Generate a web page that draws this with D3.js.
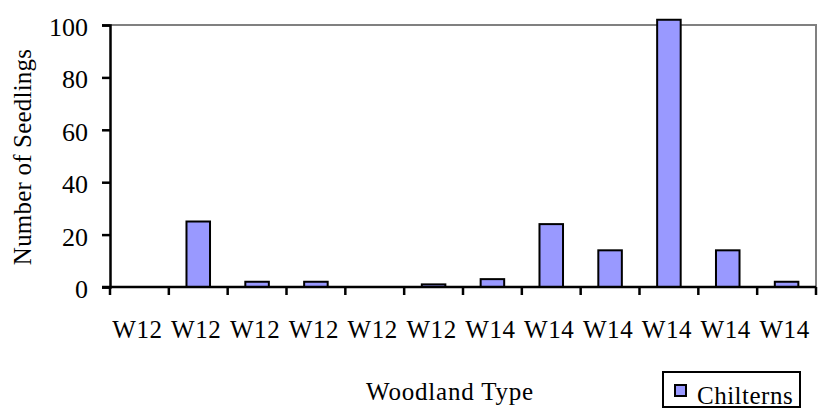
<!DOCTYPE html>
<html>
<head>
<meta charset="utf-8">
<script src="https://cdn.jsdelivr.net/npm/d3@7"></script>
<style>
  html, body { margin: 0; padding: 0; background: #fff; }
  svg { display: block; font-family: "Liberation Serif", "Times New Roman", serif; }
</style>
</head>
<body>
<svg id="chart" width="818" height="410"></svg>
<script>
// Seedling counts per woodland plot
const categories = ["W12", "W12", "W12", "W12", "W12", "W12", "W14", "W14", "W14", "W14", "W14", "W14"];
const chilterns = [0, 25, 2, 2, 0, 1, 3, 24, 14, 102, 14, 2];
const yTicks = [0, 20, 40, 60, 80, 100];
const seriesName = "Chilterns";

const svg = d3.select("#chart");
const margin = { left: 110, right: 2, top: 25, bottom: 123 };
const W = 818, H = 410;
const plotW = W - margin.left - margin.right;
const plotH = H - margin.top - margin.bottom;

const idx = categories.map((_, i) => i);
const x = d3.scaleBand().domain(idx).range([margin.left, margin.left + plotW]).paddingInner(0.6).paddingOuter(0.3);
const xCat = d3.scaleBand().domain(idx).range([margin.left, margin.left + plotW]);
const y = d3.scaleLinear().domain([0, 100]).range([margin.top + plotH, margin.top]);

// plot frame: grey top and right edges
svg.append("path")
  .attr("d", `M${margin.left},${margin.top}H${margin.left + plotW}V${margin.top + plotH}`)
  .attr("fill", "none").attr("stroke", "#808080").attr("stroke-width", 2);

// bars
svg.append("g").selectAll("rect").data(chilterns).join("rect")
  .attr("x", (d, i) => x(i))
  .attr("width", x.bandwidth())
  .attr("y", d => y(d))
  .attr("height", d => y(0) - y(d))
  .attr("fill", "#9999ff")
  .attr("stroke", "#000").attr("stroke-width", 2)
  .attr("display", d => d > 0 ? null : "none");

// y axis
const yAxis = svg.append("g")
  .attr("transform", `translate(${margin.left},0)`)
  .call(d3.axisLeft(y).tickValues(yTicks).tickSize(8).tickPadding(14));
yAxis.select(".domain").attr("stroke", "#000").attr("stroke-width", 2.5);
yAxis.selectAll(".tick line").attr("stroke", "#000").attr("stroke-width", 2.5);
yAxis.selectAll(".tick text")
  .attr("font-family", "Liberation Serif").attr("font-size", 26).attr("fill", "#000")
  .attr("dy", "0.4em");

// x axis: ticks sit on category boundaries
const bounds = d3.range(categories.length + 1).map(i => margin.left + i * xCat.step());
const xAxisG = svg.append("g");
xAxisG.append("line")
  .attr("x1", margin.left - 8).attr("x2", margin.left + plotW)
  .attr("y1", y(0)).attr("y2", y(0))
  .attr("stroke", "#000").attr("stroke-width", 2.5);
xAxisG.selectAll("line.tk").data(bounds).join("line").attr("class", "tk")
  .attr("x1", d => d).attr("x2", d => d)
  .attr("y1", y(0)).attr("y2", y(0) + 8)
  .attr("stroke", "#000").attr("stroke-width", 2.5);
xAxisG.selectAll("text").data(categories).join("text")
  .attr("x", (d, i) => xCat(i) + xCat.bandwidth() / 2 - 2)
  .attr("y", 338)
  .attr("text-anchor", "middle")
  .attr("font-size", 25)
  .attr("letter-spacing", 0.6)
  .text(d => d);

// axis titles
svg.append("text")
  .attr("transform", `translate(31,${margin.top + plotH / 2 + 1}) rotate(-90)`)
  .attr("text-anchor", "middle")
  .attr("font-size", 25)
  .attr("letter-spacing", 0.2)
  .text("Number of Seedlings");

svg.append("text")
  .attr("x", 450).attr("y", 400)
  .attr("text-anchor", "middle")
  .attr("font-size", 25)
  .attr("letter-spacing", 0.8)
  .text("Woodland Type");

// legend
const lg = svg.append("g");
lg.append("rect").attr("x", 663).attr("y", 372).attr("width", 137).attr("height", 35)
  .attr("fill", "#fff").attr("stroke", "#000").attr("stroke-width", 2);
lg.append("rect").attr("x", 675).attr("y", 385).attr("width", 11).attr("height", 11)
  .attr("fill", "#9999ff").attr("stroke", "#000").attr("stroke-width", 2);
lg.append("text").attr("x", 697).attr("y", 404)
  .attr("font-size", 25).attr("letter-spacing", 0.5)
  .text(seriesName);
</script>
</body>
</html>
